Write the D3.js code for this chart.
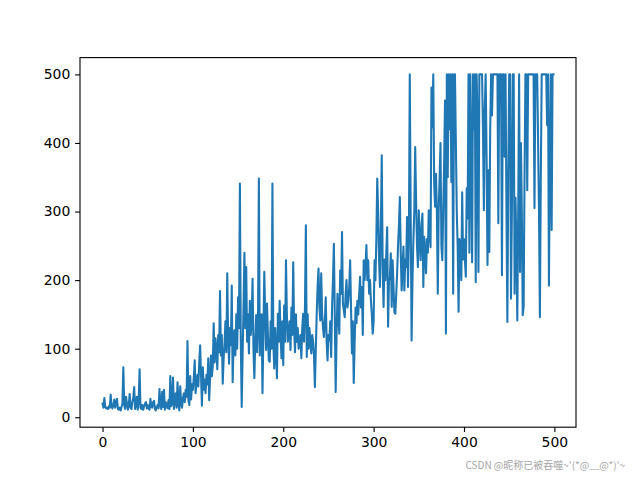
<!DOCTYPE html>
<html><head><meta charset="utf-8">
<script src="https://cdn.jsdelivr.net/npm/d3@7"></script>
<style>body{margin:0;background:#fff} svg{display:block}</style>
</head><body><svg id="c" width="640" height="480"></svg>
<script>
const rewards = [
20,14,28,15,13,14,12,16,14,33,
15,13,18,26,14,22,27,12,11,14,
10,15,20,73,18,12,30,20,11,17,
34,14,12,22,28,44,12,18,30,11,
25,70,14,12,18,11,16,20,22,13,
18,12,11,27,15,14,22,24,12,10,
15,18,13,41,19,12,37,15,40,11,
22,18,13,25,12,60,16,20,58,12,
23,35,14,51,20,10,45,19,14,28,
35,22,40,30,111,25,18,60,26,48,
40,58,83,35,50,62,45,80,105,60,
17,73,40,55,35,62,48,86,25,55,
90,60,75,137,80,115,98,70,120,95,
184,90,120,49,85,108,140,95,210,120,
78,130,105,192,51,110,127,90,150,100,
175,130,341,110,15,90,160,240,130,219,
110,150,93,170,120,140,202,100,57,110,
149,95,130,348,90,122,150,35,120,212,
150,98,166,120,83,81,140,100,341,110,
71,130,100,57,151,110,170,120,86,140,
76,163,110,229,150,110,122,140,98,160,
120,226,130,95,150,110,130,100,110,120,
86,130,151,110,160,280,88,150,100,130,
110,93,120,110,90,44,100,150,190,217,
160,141,210,150,130,117,140,175,110,83,
120,112,140,88,160,200,253,150,37,120,
180,150,122,214,180,270,166,156,146,180,
200,160,170,190,229,160,93,140,50,110,
160,137,170,150,180,205,160,190,120,229,
200,220,251,200,229,180,200,170,150,122,
140,229,200,260,348,300,229,190,280,382,
220,161,230,200,240,277,132,200,205,239,
161,229,190,153,151,180,210,250,280,321,
240,185,220,249,185,230,219,292,190,260,
500,300,112,200,258,300,394,316,250,219,
302,260,229,280,297,190,263,240,210,260,
240,302,270,248,481,423,500,340,307,355,
300,180,300,350,400,250,229,300,370,462,
122,500,350,500,420,500,343,500,180,500,
500,400,300,250,154,260,240,200,328,230,
260,230,205,334,290,500,240,500,380,226,
500,420,500,197,500,430,212,500,500,500,
500,420,302,450,500,380,222,360,241,420,
500,440,500,500,500,500,500,500,283,500,
500,500,207,500,500,380,500,300,139,350,
500,500,173,300,500,500,180,320,250,141,
300,500,212,400,300,149,161,350,500,500,
331,500,500,500,500,500,500,500,305,500,
500,500,400,300,146,350,500,500,500,500,
500,500,426,500,192,375,500,273,500,500
];
const xTicks = [0, 100, 200, 300, 400, 500];
const yTicks = [0, 100, 200, 300, 400, 500];
const watermark = "CSDN @昵称已被吞噬~'(*@﹏@*)'~";
const episodes = rewards.map((d, i) => i);

const svg = d3.select('#c');
const m = {l: 80, r: 576, t: 57.6, b: 427.2};
const xmin = d3.min(episodes), xmax = d3.max(episodes), xm = (xmax - xmin) * 0.05;
const ymin = d3.min(rewards), ymax = d3.max(rewards), ym = (ymax - ymin) * 0.05;
const x = d3.scaleLinear().domain([xmin - xm, xmax + xm]).range([m.l, m.r]);
const y = d3.scaleLinear().domain([ymin - ym, ymax + ym]).range([m.b, m.t]);

svg.append('defs').append('clipPath').attr('id', 'clip')
  .append('rect').attr('x', m.l).attr('y', m.t).attr('width', m.r - m.l).attr('height', m.b - m.t);

const line = d3.line().x((d, i) => x(episodes[i])).y(d => y(d));
svg.append('path').datum(rewards)
  .attr('clip-path', 'url(#clip)')
  .attr('d', line)
  .attr('fill', 'none')
  .attr('stroke', '#1f77b4')
  .attr('stroke-width', 2.08)
  .attr('stroke-linejoin', 'round')
  .attr('stroke-linecap', 'square');

const tickLen = 4.86, pad = 4.86;
const font = "'DejaVu Sans', sans-serif";
const gx = svg.append('g').attr('transform', `translate(0,${m.b})`)
  .call(d3.axisBottom(x).tickValues(xTicks).tickSize(tickLen).tickPadding(pad).tickFormat(d3.format('d')));
const gy = svg.append('g').attr('transform', `translate(${m.l},0)`)
  .call(d3.axisLeft(y).tickValues(yTicks).tickSize(tickLen).tickPadding(pad).tickFormat(d3.format('d')));
[gx, gy].forEach(g => {
  g.select('.domain').remove();
  g.selectAll('.tick line').attr('stroke', '#000').attr('stroke-width', 1.11);
  g.selectAll('.tick text').attr('fill', '#000').style('font-family', font).style('font-size', '13.9px');
});

svg.append('rect').attr('x', m.l).attr('y', m.t).attr('width', m.r - m.l).attr('height', m.b - m.t)
  .attr('fill', 'none').attr('stroke', '#000').attr('stroke-width', 1.11);

svg.append('text').attr('x', 625).attr('y', 469).attr('text-anchor', 'end')
  .style('font-family', "'Noto Sans CJK SC', sans-serif").style('font-size', '10px')
  .attr('fill', '#a6a6a6').text(watermark);
</script></body></html>
